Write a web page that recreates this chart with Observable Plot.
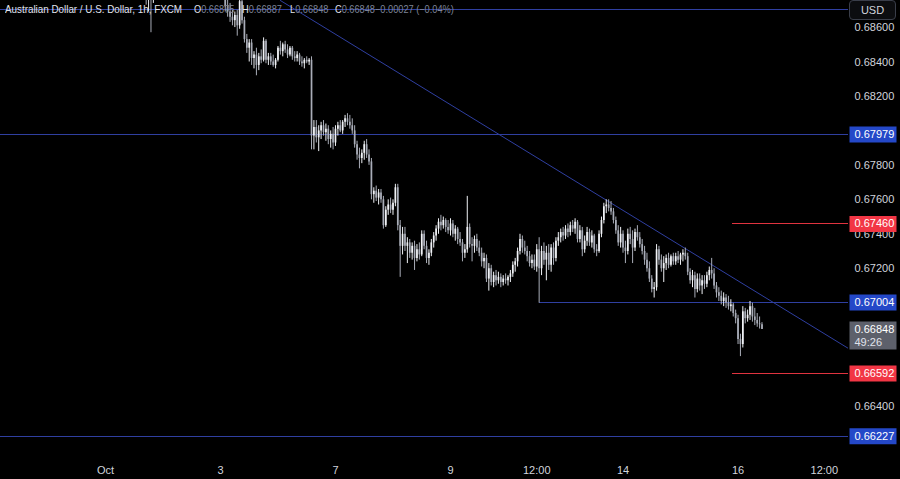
<!DOCTYPE html>
<html><head><meta charset="utf-8">
<script src="https://cdn.jsdelivr.net/npm/d3@7"></script>
<script src="https://cdn.jsdelivr.net/npm/@observablehq/plot@0.6"></script>
<style>
html,body{margin:0;padding:0;background:#000;}
#wrap{position:relative;width:900px;height:479px;overflow:hidden;background:#000;}
.t{position:absolute;top:2px;font:11.5px "Liberation Sans","DejaVu Sans",sans-serif;color:#e0e3eb;white-space:nowrap;line-height:14px;transform-origin:0 50%;transform:scaleX(0.8);}
.n{transform:scaleX(0.855);}
.v{color:#7e8497;}
#usd{position:absolute;left:849px;top:0px;width:45px;height:18px;border:1px solid #3a3e4a;border-radius:4px;background:#0c0d10;color:#d1d4dc;font:11px "Liberation Sans",sans-serif;text-align:center;line-height:18px;}
</style></head>
<body><div id="wrap"><div id="chart"></div>
<div class="t n" style="left:5px">Australian Dollar / U.S. Dollar, 1h, FXCM</div>
<div class="t" style="left:194px">O<span class="v">0.66875</span></div>
<div class="t" style="left:242px">H<span class="v">0.66887</span></div>
<div class="t" style="left:290px">L<span class="v">0.66848</span></div>
<div class="t" style="left:335px">C<span class="v">0.66848</span></div>
<div class="t v" style="left:375px">−0.00027 (−0.04%)</div>
<div id="usd">USD</div>
</div>
<script>
// hour index (0 = Oct 1 00:00, trading hours only) for each candle segment
const segments = [[16, 21], [50, 274]];
const open = [.6892,.6884,.6880,.6883,.6881,.6886,
.6878,.6872,.6869,.6866,.6864,.6867,.6861,.6875,.6864,.6853,
.6848,.6851,.6842,.6844,.6838,.6843,.6841,.6852,.6841,.6843,
.6840,.6838,.6841,.6848,.6846,.6850,.6847,.6844,.6848,.6843,
.6842,.6844,.6840,.6839,.6841,.6840,.6841,.6797,.6802,.6796,
.6800,.6803,.6799,.6801,.6795,.6798,.6793,.6801,.6803,.6800,
.6805,.6807,.6805,.6803,.6800,.6792,.6786,.6784,.6787,.6792,
.6786,.6782,.6763,.6765,.6761,.6764,.6760,.6745,.6754,.6757,
.6754,.6758,.6767,.6745,.6733,.6740,.6733,.6735,.6729,.6733,
.6726,.6731,.6728,.6740,.6733,.6726,.6729,.6735,.6739,.6743,
.6747,.6745,.6748,.6744,.6742,.6746,.6740,.6743,.6737,.6735,
.6729,.6731,.6744,.6734,.6733,.6737,.6732,.6729,.6724,.6726,
.6714,.6720,.6712,.6716,.6713,.6715,.6712,.6714,.6713,.6715,
.6717,.6722,.6724,.6730,.6737,.6732,.6730,.6727,.6723,.6725,
.6721,.6731,.6720,.6730,.6725,.6729,.6722,.6732,.6726,.6736,
.6738,.6741,.6739,.6743,.6741,.6745,.6743,.6747,.6737,.6742,
.6731,.6736,.6741,.6735,.6739,.6731,.6730,.6740,.6748,.6756,
.6757,.6755,.6753,.6748,.6742,.6735,.6740,.6732,.6730,.6740,
.6737,.6732,.6741,.6738,.6734,.6730,.6725,.6720,.6714,.6708,
.6709,.6731,.6725,.6720,.6723,.6726,.6722,.6727,.6724,.6727,
.6725,.6728,.6729,.6727,.6718,.6713,.6716,.6708,.6714,.6710,
.6713,.6711,.6716,.6719,.6717,.6710,.6706,.6704,.6701,.6703,
.6700,.6698,.6699,.6694,.6691,.6679,.6676,.6695,.6691,.6693,
.6698,.6692,.6690,.6688,.66875];
const high = [.6898,.6890,.6887,.6889,.6890,.6895,
.6882,.6877,.6874,.6870,.6869,.6870,.6878,.6880,.6866,.6856,
.6853,.6853,.6846,.6848,.6845,.6847,.6854,.6853,.6845,.6845,
.6844,.6842,.6849,.6852,.6851,.6852,.6850,.6849,.6849,.6846,
.6846,.6845,.6843,.6842,.6843,.6842,.6843,.6806,.6806,.6803,
.6805,.6806,.6804,.6803,.6800,.6802,.6803,.6805,.6806,.6806,
.6809,.6810,.6809,.6807,.6803,.6794,.6790,.6789,.6794,.6795,
.6789,.6784,.6767,.6768,.6766,.6766,.6762,.6756,.6760,.6761,
.6760,.6769,.6769,.6748,.6744,.6744,.6738,.6737,.6735,.6736,
.6734,.6735,.6742,.6742,.6736,.6731,.6737,.6741,.6745,.6749,
.6751,.6750,.6749,.6748,.6749,.6748,.6745,.6744,.6741,.6737,
.6734,.6762,.6746,.6738,.6739,.6740,.6736,.6732,.6729,.6728,
.6723,.6722,.6718,.6719,.6718,.6717,.6716,.6717,.6716,.6719,
.6724,.6726,.6732,.6740,.6739,.6736,.6733,.6730,.6728,.6728,
.6734,.6738,.6733,.6735,.6733,.6734,.6734,.6735,.6738,.6741,
.6743,.6744,.6745,.6746,.6747,.6748,.6749,.6748,.6745,.6744,
.6739,.6744,.6743,.6742,.6740,.6734,.6742,.6750,.6758,.6760,
.6760,.6759,.6755,.6750,.6745,.6744,.6742,.6736,.6743,.6744,
.6742,.6743,.6745,.6741,.6737,.6733,.6729,.6724,.6716,.6712,
.6734,.6733,.6728,.6727,.6728,.6729,.6728,.6729,.6729,.6730,
.6729,.6731,.6732,.6729,.6720,.6719,.6718,.6717,.6717,.6716,
.6716,.6718,.6721,.6726,.6720,.6712,.6709,.6707,.6706,.6705,
.6704,.6702,.6700,.6696,.6693,.6682,.6698,.6697,.6696,.6701,
.6700,.6697,.6694,.6692,.66887];
const low = [.6880,.6873,.6869,.6857,.6874,.6880,
.6869,.6866,.6863,.6861,.6860,.6855,.6859,.6862,.6851,.6845,
.6840,.6838,.6836,.6832,.6835,.6839,.6840,.6839,.6838,.6838,
.6837,.6836,.6840,.6844,.6843,.6845,.6842,.6843,.6841,.6840,
.6840,.6838,.6837,.6836,.6839,.6838,.6789,.6789,.6793,.6788,
.6795,.6797,.6794,.6792,.6790,.6789,.6791,.6797,.6799,.6798,
.6802,.6803,.6801,.6798,.6790,.6783,.6778,.6781,.6783,.6784,
.6780,.6760,.6758,.6759,.6757,.6758,.6743,.6744,.6751,.6752,
.6751,.6756,.6742,.6715,.6728,.6730,.6723,.6726,.6725,.6719,
.6724,.6725,.6727,.6731,.6723,.6722,.6727,.6732,.6736,.6740,
.6742,.6743,.6741,.6740,.6739,.6738,.6736,.6734,.6733,.6724,
.6726,.6729,.6732,.6724,.6729,.6730,.6727,.6721,.6720,.6712,
.6707,.6710,.6709,.6710,.6711,.6709,.6710,.6711,.6710,.6712,
.6715,.6718,.6721,.6728,.6729,.6728,.6724,.6721,.6720,.6719,
.6718,.6700,.6716,.6722,.6713,.6719,.6718,.6722,.6724,.6733,
.6735,.6736,.6737,.6738,.6739,.6741,.6740,.6735,.6735,.6727,
.6729,.6733,.6733,.6732,.6729,.6727,.6729,.6738,.6746,.6752,
.6753,.6751,.6746,.6740,.6733,.6732,.6729,.6723,.6728,.6734,
.6723,.6730,.6736,.6732,.6728,.6722,.6718,.6712,.6706,.6703,
.6707,.6722,.6718,.6712,.6719,.6720,.6721,.6722,.6722,.6723,
.6722,.6724,.6725,.6716,.6711,.6709,.6703,.6706,.6707,.6705,
.6708,.6709,.6713,.6714,.6708,.6703,.6701,.6699,.6698,.6697,
.6696,.6695,.6692,.6688,.6676,.6669,.6674,.6688,.6689,.6690,
.6689,.6687,.6686,.6685,.66848];
const close = [.6884,.6880,.6883,.6881,.6886,.6892,
.6872,.6869,.6866,.6864,.6867,.6861,.6875,.6864,.6853,.6848,
.6851,.6842,.6844,.6838,.6843,.6841,.6852,.6841,.6843,.6840,
.6838,.6841,.6848,.6846,.6850,.6847,.6844,.6848,.6843,.6842,
.6844,.6840,.6839,.6841,.6840,.6841,.6797,.6802,.6796,.6800,
.6803,.6799,.6801,.6795,.6798,.6793,.6801,.6803,.6800,.6805,
.6807,.6805,.6803,.6800,.6792,.6786,.6784,.6787,.6792,.6786,
.6782,.6763,.6765,.6761,.6764,.6760,.6745,.6754,.6757,.6754,
.6758,.6767,.6745,.6733,.6740,.6733,.6735,.6729,.6733,.6726,
.6731,.6728,.6740,.6733,.6726,.6729,.6735,.6739,.6743,.6747,
.6745,.6748,.6744,.6742,.6746,.6740,.6743,.6737,.6735,.6729,
.6731,.6744,.6734,.6733,.6737,.6732,.6729,.6724,.6726,.6714,
.6720,.6712,.6716,.6713,.6715,.6712,.6714,.6713,.6715,.6717,
.6722,.6724,.6730,.6737,.6732,.6730,.6727,.6723,.6725,.6721,
.6731,.6720,.6730,.6725,.6729,.6722,.6732,.6726,.6736,.6738,
.6741,.6739,.6743,.6741,.6745,.6743,.6747,.6737,.6742,.6731,
.6736,.6741,.6735,.6739,.6731,.6730,.6740,.6748,.6756,.6757,
.6755,.6753,.6748,.6742,.6735,.6740,.6732,.6730,.6740,.6737,
.6732,.6741,.6738,.6734,.6730,.6725,.6720,.6714,.6708,.6709,
.6731,.6725,.6720,.6723,.6726,.6722,.6727,.6724,.6727,.6725,
.6728,.6729,.6727,.6718,.6713,.6716,.6708,.6714,.6710,.6713,
.6711,.6716,.6719,.6717,.6710,.6706,.6704,.6701,.6703,.6700,
.6698,.6699,.6694,.6691,.6679,.6676,.6695,.6691,.6693,.6698,
.6692,.6690,.6688,.66875,.66848];

// drawn levels
const fullLevels = [0.68705, 0.67979, 0.66227];
const supportLevel = {price: 0.67004, from: 181};
const redLevels = [0.67460, 0.66592];
const redFrom = 261.5;
const trendPoints = [{h: 73, p: 0.68757}, {h: 310.1, p: 0.66737}];
const lastPrice = 0.66848;
const countdown = "49:26";
const blueTags = [0.67979, 0.67004, 0.66227];
const redTags = [0.67460, 0.66592];

// axes (labels hidden behind the price tags are left out)
const yTicks = [0.664, 0.672, 0.674, 0.676, 0.678, 0.682, 0.684, 0.686];
const xTicks = [0, 48, 96, 144, 180, 216, 264, 300];
const xTickLabels = ["Oct", "3", "7", "9", "12:00", "14", "16", "12:00"];
const xDomain = [-43.8, 310.1];
const yDomain = [0.66145, 0.68757];

const hours = segments.flatMap(([a, b]) => d3.range(a, b + 1));
const candles = hours.map((h, i) => ({h, o: open[i], hi: high[i], lo: low[i], c: close[i]}));
const xLabel = new Map(xTicks.map((t, i) => [t, xTickLabels[i]]));

const BLUE = "#2f3fa0", BLUE_TAG = "#2448c8", RED = "#e0333f", RED_TAG = "#f23645", GRAY_TAG = "#5d606b";
const UP = "#f0f2f6", DOWN = "#a9adb8";
const FONT = '"Liberation Sans","DejaVu Sans",sans-serif';

const tag = (top, bottom) => ({draw(ctx) { ctx.rect(1, top, 47, bottom - top); }});

const chart = Plot.plot({
  width: 900, height: 479,
  marginLeft: 0, marginRight: 52, marginTop: 0, marginBottom: 29,
  style: {background: "#000", color: "#d1d4dc", fontFamily: FONT, fontSize: "11px"},
  x: {domain: xDomain, axis: null},
  y: {domain: yDomain, axis: null},
  marks: [
    Plot.ruleY(fullLevels, {stroke: BLUE, strokeWidth: 1, shapeRendering: "crispEdges"}),
    Plot.ruleY([supportLevel], {y: "price", x1: "from", x2: xDomain[1], stroke: BLUE, strokeWidth: 1, shapeRendering: "crispEdges"}),
    Plot.ruleY(redLevels, {y: d => d, x1: redFrom, x2: xDomain[1], stroke: RED, strokeWidth: 1, shapeRendering: "crispEdges"}),
    Plot.line(trendPoints, {x: "h", y: "p", stroke: BLUE, strokeWidth: 1, clip: true}),
    Plot.ruleX(candles, {x: "h", y1: "lo", y2: "hi", stroke: d => d.c >= d.o ? UP : DOWN, strokeWidth: 1, clip: true}),
    Plot.ruleX(candles, {x: "h", y1: "o", y2: "c", stroke: d => d.c >= d.o ? UP : DOWN, strokeWidth: 1.7, clip: true}),
    Plot.axisY({anchor: "right", ticks: yTicks, tickSize: 0, tickPadding: 6, tickFormat: d3.format(".5f"), fill: "#d1d4dc", fontSize: 11}),
    Plot.axisX({ticks: xTicks, tickFormat: d => xLabel.get(d), tickSize: 0, tickPadding: 16, fill: "#d1d4dc", fontSize: 11}),
    Plot.dot(blueTags, {y: d => d, frameAnchor: "right", symbol: tag(-8, 8), fill: BLUE_TAG, r: 5}),
    Plot.dot(redTags, {y: d => d, frameAnchor: "right", symbol: tag(-8, 8), fill: RED_TAG, r: 5}),
    Plot.dot([lastPrice], {y: d => d, frameAnchor: "right", symbol: tag(-8, 20), fill: GRAY_TAG, r: 5}),
    Plot.text([...blueTags, ...redTags, lastPrice], {y: d => d, text: d => d3.format(".5f")(d), frameAnchor: "right", dx: 6, textAnchor: "start", fill: "#ffffff", fontSize: 11}),
    Plot.text([lastPrice], {y: d => d, text: () => countdown, frameAnchor: "right", dx: 6, dy: 13, textAnchor: "start", fill: "#e0e3eb", fontSize: 11})
  ]
});
document.getElementById("chart").appendChild(chart);
</script>
</body></html>
